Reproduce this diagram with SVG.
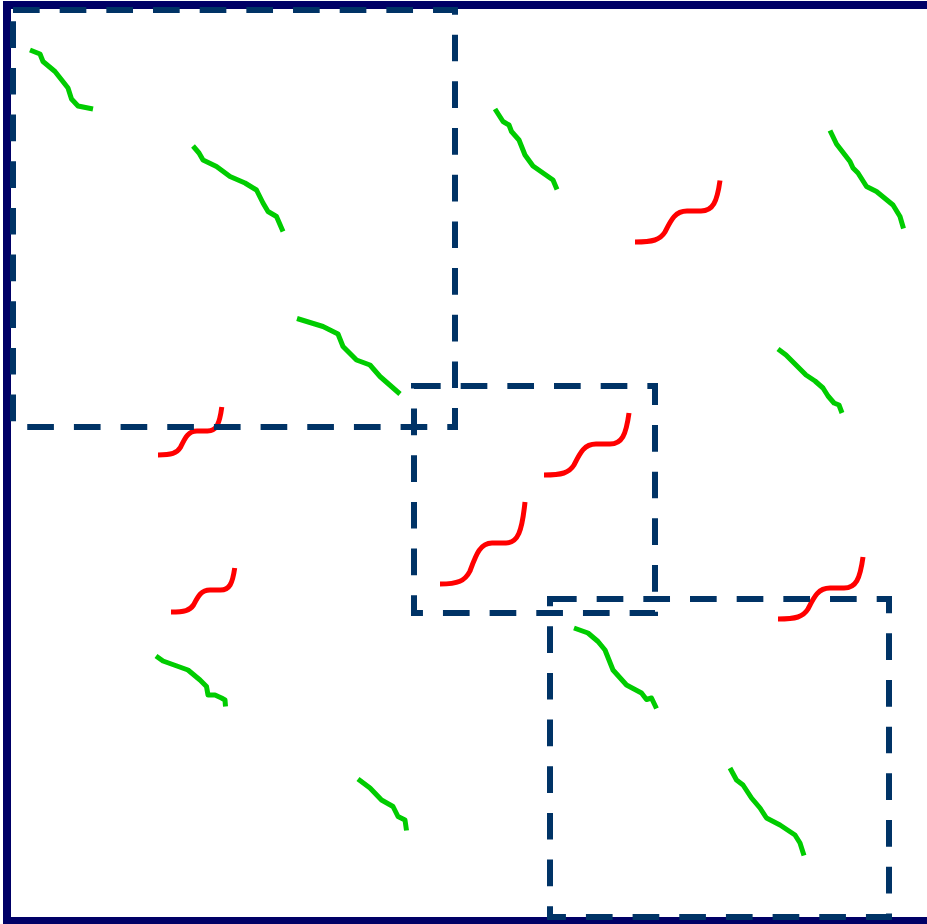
<svg xmlns="http://www.w3.org/2000/svg" width="927" height="924" viewBox="0 0 927 924">
<style>
.frame{fill:none;stroke:#000066;stroke-width:8}
.zone{fill:none;stroke:#003366;stroke-width:6;stroke-dasharray:26.67 20}
.g{fill:none;stroke:#00cc00;stroke-width:5;stroke-linejoin:round;stroke-linecap:butt}
.r{fill:none;stroke:#ff0000;stroke-width:5;stroke-linecap:butt}
</style>
<rect width="927" height="924" fill="#ffffff"/>
<rect class="frame" x="7" y="5" width="930" height="916"/>
<g id="green">
<path class="g" d="M30,50 L40,54 L43,61.5 L55,71.5 L68,88 L71.5,99 L78,106 L93,109"/>
<path class="g" d="M193,146 L199,153 L203,160 L216.5,166.5 L230,176.5 L245,183 L256.5,190 L263,203 L268,211.5 L276.5,216.5 L283,231.5"/>
<path class="g" d="M297,318.5 L323,326.5 L338,334 L343,346.5 L356.5,360 L370,365 L380,376.5 L400,394"/>
<path class="g" d="M495,109 L503,121.5 L509,125 L511.5,131.5 L519,140 L525,155 L533,166 L548,176.5 L553,180 L557,189.5"/>
<path class="g" d="M830,130.5 L836.5,144 L850,161.5 L853,168 L858,173 L866.5,186.5 L876.5,191.5 L893,205 L900,216.5 L903.5,228.5"/>
<path class="g" d="M778,349 L786,355 L797,366 L806,375 L815,381 L823,388 L828,396 L834,403 L839,405 L842,413"/>
<path class="g" d="M156,656 L163,661 L188,670 L200,680 L206.5,686.5 L208,695 L215,695 L221.5,698 L225,700 L225.5,706.5"/>
<path class="g" d="M358,779 L370,788 L381.5,800 L393,806.5 L398,816.5 L405,820 L406.5,830.5"/>
<path class="g" d="M574,628 L588,633 L598,641.5 L605,650 L613,670 L626.5,685 L641.5,693 L646.5,699.5 L651.5,698 L656.5,708.5"/>
<path class="g" d="M730,768 L736.5,780 L743,785 L751.5,798 L760,808 L766.5,818 L780,825 L795,835 L800,843 L804,855.5"/>
</g>
<g id="red">
<path class="r" d="M158,455 C171.5,455 176.8,453.5 180.5,447.3 C185,438 188,431 197,431 L207.5,431 C216.5,431 219.5,424 221.8,407"/>
<path class="r" d="M171,612 C184.5,612 189.8,610.6 193.5,605 C198,596.4 201,590 210,590 L220.5,590 C229.5,590 232.5,583.6 234.7,568"/>
<path class="r" d="M635,242 C653,242 660,240 665,232 C671,220 675,211 687,211 L701,211 C713,211 717,202 720,180.5"/>
<path class="r" d="M544,475 C562,475 569,473 574,465 C580,453 584,444 596,444 L610,444 C622,444 626,435 629,413"/>
<path class="r" d="M440,584 C458,584 465,581 470,571 C476,555 480,543 492,543 L506,543 C518,543 522,531 525,502"/>
<path class="r" d="M778,619 C796,619 803,617 808,609 C814,597 818,588 830,588 L844,588 C856,588 860,579 863,557"/>
</g>
<g id="zones">
<rect id="zone-1" class="zone" x="13" y="10" width="442" height="417"/>
<rect id="zone-2" class="zone" x="414" y="386" width="241" height="227"/>
<rect id="zone-3" class="zone" x="550" y="599" width="339" height="318"/>
</g>
</svg>
